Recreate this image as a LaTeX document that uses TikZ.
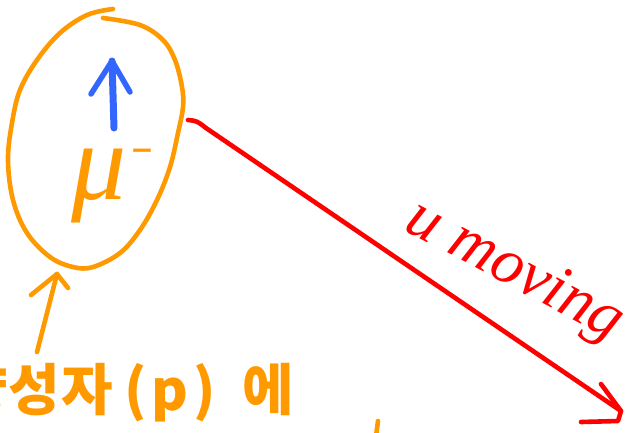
\documentclass[tikz,border=0pt]{standalone}
\usepackage{fontspec}
\setmainfont{Liberation Serif}
\newfontfamily\kr{Noto Sans CJK KR}
\newfontfamily\symb{DejaVu Sans}
\definecolor{org}{HTML}{FF9900}
\definecolor{blu}{HTML}{3366FF}
\definecolor{rd}{HTML}{FF0000}
\begin{document}
\begin{tikzpicture}[x=1pt,y=-1pt,line cap=round,line join=round,
  pen/.style={line width=4.6pt},
  thick pen/.style={line width=7pt}]
\useasboundingbox (0,0) rectangle (629,432);
% orange ring round the muon
\draw[org,pen] plot[smooth,tension=0.6] coordinates {(103,18) (140,25) (163,40) (175,60) (182,87) (183,107) (178,133) (170,167) (157,200) (140,230) (120,253) (93,267) (73,267) (50,257) (27,233) (13,200) (8,160) (12,123) (20,90) (37,60) (60,33) (87,15) (113,9)};
\coordinate (ringE) at (188,120);
\coordinate (ringS) at (57,274);
% spin arrow
\coordinate (spinB) at (114,128);
\coordinate (spinT) at (112,61);
\draw[blu,thick pen] (spinB) -- (spinT);
\draw[blu,line width=5.5pt] (spinT) ++(-21,33) -- (spinT) -- ++(18,31);
% muon label
\node[text=org,font=\fontsize{110}{110}\selectfont\itshape,anchor=base west,inner sep=0pt] (mu) at (71,199) {μ\kern4pt\raisebox{40pt}{\symb\bfseries\fontsize{28}{28}\selectfont\upshape −}};
% moving arrow
\coordinate (tipR) at (621,411);
\draw[rd,pen] (ringE) .. controls (197,121) .. (206,128) -- (tipR);
\draw[rd,pen] (tipR) ++(-20,-27) -- (tipR) -- ++(-3,10) -- ++(-37,1);
\node[text=rd,font=\fontsize{64}{64}\selectfont\itshape,rotate=-28,inner sep=0pt] (mov) at (514,272) {u moving};
% proton label and pointer
\node[text=org,font=\kr\bfseries\fontsize{56}{56}\selectfont,anchor=base west,inner sep=0pt] (prot) at (-44,410) {양\hspace{1pt}성\hspace{1pt}자\hspace{12pt}(\hspace{4pt}p\hspace{6pt})\hspace{26pt}에};
\coordinate (protT) at (37,352);
\draw[org,pen] (protT) -- (ringS);
\draw[org,pen] (ringS) ++(-26,21) -- (ringS) -- ++(11,14);
\coordinate (nextT) at (378,421);
\coordinate (nextB) at (376,436);
\draw[org,pen] (nextB) -- (nextT);
\end{tikzpicture}
\end{document}
